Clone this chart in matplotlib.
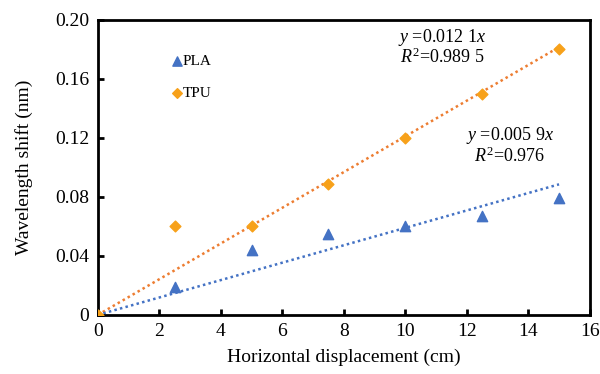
import numpy as np
import matplotlib.pyplot as plt

plt.rcParams['font.family'] = ['Liberation Serif', 'DejaVu Serif']
plt.rcParams['mathtext.fontset'] = 'custom'
plt.rcParams['mathtext.rm'] = 'Liberation Serif'
plt.rcParams['mathtext.it'] = 'Liberation Serif:italic'

# data
disp = [0, 2.5, 5, 7.5, 10, 12.5, 15]
pla = [0, 0.019, 0.044, 0.055, 0.060, 0.067, 0.079]
tpu = [0, 0.060, 0.060, 0.089, 0.120, 0.150, 0.180]
slope_pla = 0.0059
slope_tpu = 0.0121

blue = '#4472C4'
orange_mk = '#F7A11A'
orange_ln = '#ED7D31'

fig = plt.figure(figsize=(6, 3.74), dpi=100)
ax = fig.add_axes([0.163, 0.158, 0.82, 0.789])

xs = np.array([0, 15])
ax.plot(xs, slope_tpu * xs, ls=(0, (1, 1.3)), color=orange_ln, lw=1.8)
ax.plot(xs, slope_pla * xs, ls=(0, (1, 1.3)), color=blue, lw=1.8)
ax.scatter(disp, pla, marker='^', s=55, color=blue, zorder=3, label='PLA')
ax.scatter(disp, tpu, marker='D', s=30, color=orange_mk, zorder=3, label='TPU')

ax.set_xlim(0, 16)
ax.set_ylim(0, 0.20)
ax.set_xticks(range(0, 17, 2))
ax.set_yticks([0, 0.04, 0.08, 0.12, 0.16, 0.20])
ax.set_yticklabels(['0', '0.04', '0.08', '0.12', '0.16', '0.20'])
ax.tick_params(direction='in', length=4, width=2, labelsize=14, pad=6)
for s in ax.spines.values():
    s.set_linewidth(2)
ax.set_xlabel('Horizontal displacement (cm)', fontsize=14, labelpad=6)
ax.set_ylabel('Wavelength shift (nm)', fontsize=14, labelpad=16)

ax.legend(loc='upper left', bbox_to_anchor=(0.12, 0.93), frameon=False,
          fontsize=11, handlelength=0.8, handletextpad=0.0, labelspacing=1.2,
          markerscale=0.9)

ax.text(11.2, 0.1878, '$y$ =0.012 1$x$', fontsize=13, ha='center', va='center')
ax.text(11.2, 0.1745, '$R^2$=0.989 5', fontsize=13, ha='center', va='center')
ax.text(13.4, 0.1214, '$y$ =0.005 9$x$', fontsize=13, ha='center', va='center')
ax.text(13.4, 0.1078, '$R^2$=0.976', fontsize=13, ha='center', va='center')

fig.savefig('out.png', dpi=100)
